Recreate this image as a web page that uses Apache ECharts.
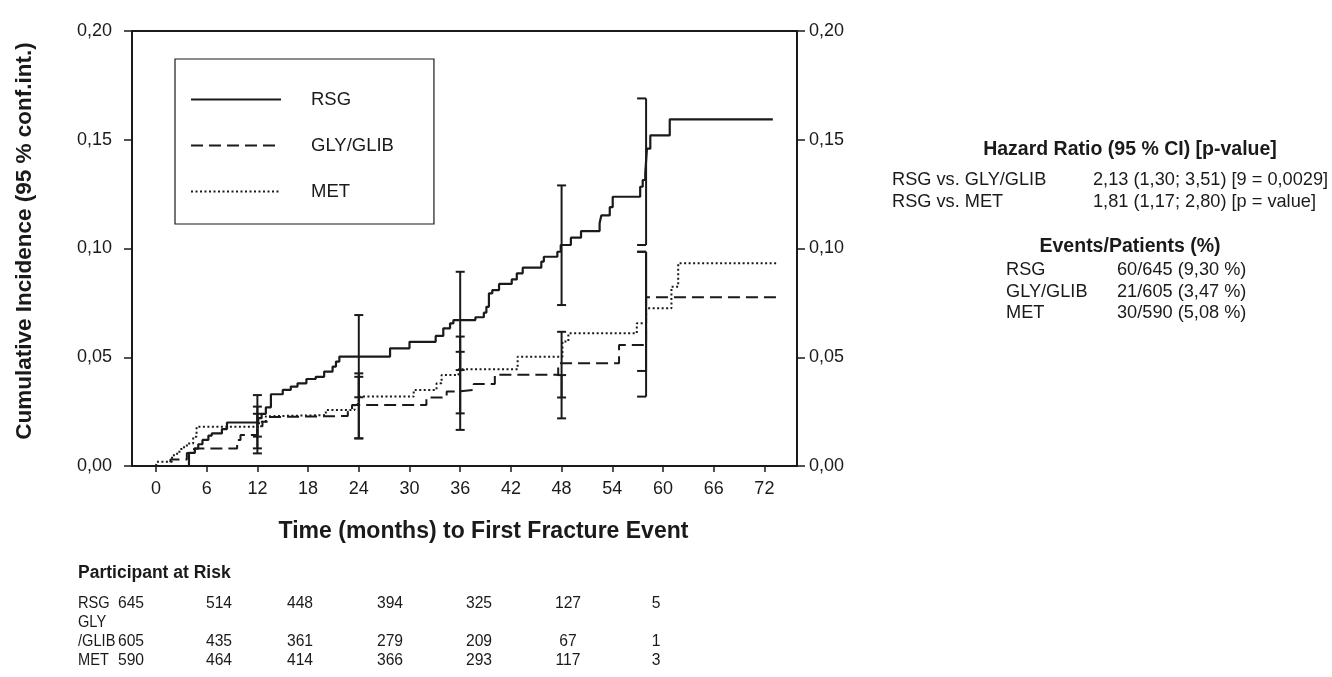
<!DOCTYPE html>
<html><head><meta charset="utf-8">
<script src="https://cdn.jsdelivr.net/npm/echarts@6/dist/echarts.min.js"></script>
<style>html,body{margin:0;padding:0;background:#fff}#c{width:1332px;height:677px}</style>
</head><body><div id="c"></div>
<script>
// ---------------- data ----------------
const seriesNames = ['RSG', 'GLY/GLIB', 'MET'];
// [month, cumulative incidence from that month on]
const rsgSteps = [[0,0],[3.9,0.006],[4.6,0.008],[5.0,0.010],[5.5,0.012],[6.2,0.014],[6.6,0.015],[7.8,0.017],[8.4,0.020],
  [12.1,0.022],[12.5,0.024],[13.0,0.027],[13.6,0.033],[15.0,0.035],[15.95,0.0365],[16.75,0.038],[17.8,0.040],[18.9,0.041],
  [19.9,0.0434],[20.9,0.0457],[21.3,0.048],[21.7,0.0503],[27.7,0.0541],[30.0,0.0571],[33.1,0.0598],[34.0,0.0633],[34.8,0.0656],
  [35.2,0.0671],[37.8,0.0684],[38.8,0.0705],[39.1,0.0732],[39.4,0.0794],[39.8,0.0809],[40.6,0.0837],[42.1,0.0858],[42.7,0.0886],
  [43.4,0.0912],[45.6,0.094],[45.9,0.0962],[47.5,0.0985],[47.9,0.1016],[49.1,0.105],[50.3,0.108],[52.5,0.1116],[52.7,0.1152],
  [53.7,0.119],[54.05,0.1238],[57.3,0.1284],[57.6,0.1315],[57.9,0.1345],[58.1,0.1459],[58.5,0.152],[60.8,0.1594],[73.0,0.1594]];
const glySteps = [[0,0],[1.7,0.003],[3.65,0.006],[4.5,0.0081],[9.6,0.012],[10.0,0.0143],[12.0,0.0183],[12.6,0.0204],[13.3,0.0225],
  [13.8,0.023],[22.7,0.025],[23.2,0.028],[32.0,0.0315],[34.4,0.0342],[35.6,0.035],[37.6,0.0377],[40.1,0.042],[47.6,0.0472],
  [54.8,0.0556],[58.0,0.0776],[73.5,0.0776]];
const metSteps = [[0,0],[0.1,0.002],[1.9,0.005],[2.5,0.0066],[3.0,0.0086],[3.65,0.0104],[4.4,0.0135],[4.8,0.0181],[12.2,0.0204],
  [13.0,0.0229],[13.5,0.0234],[20.1,0.0257],[23.5,0.0285],[24.0,0.0319],[30.5,0.035],[33.2,0.038],[33.8,0.0418],[35.8,0.0445],
  [42.8,0.0502],[48.1,0.0572],[48.8,0.061],[56.9,0.0656],[58.0,0.0725],[61.0,0.0824],[61.8,0.0932],[73.5,0.0932]];
// 95% confidence intervals [low, high] at the marked times
const ciTimes = [12, 24, 36, 48, 58];
const rsgCI = [[0.0135,0.0326],[0.0316,0.0694],[0.0441,0.0893],[0.074,0.129],[0.1016,0.169]];
const glyCI = [[0.0058,0.024],[0.0127,0.041],[0.0166,0.0525],[0.0219,0.0418],[0.0319,0.0985]];
const metCI = [[0.0081,0.0273],[0.0127,0.0426],[0.0242,0.0595],[0.0315,0.0617],[0.0437,0.0985]];

const xTicks = [0, 6, 12, 18, 24, 30, 36, 42, 48, 54, 60, 66, 72];
const yTicks = [0, 0.05, 0.10, 0.15, 0.20];

const riskTitle = 'Participant at Risk';
const riskRowLabels = ['RSG', 'GLY', '/GLIB', 'MET'];
const riskRSG = [645, 514, 448, 394, 325, 127, 5];
const riskGLY = [605, 435, 361, 279, 209, 67, 1];
const riskMET = [590, 464, 414, 366, 293, 117, 3];

const hrTitle = 'Hazard Ratio (95 % CI) [p-value]';
const hrLabels = ['RSG vs. GLY/GLIB', 'RSG vs. MET'];
const hrValues = ['2,13 (1,30; 3,51) [9 = 0,0029]', '1,81 (1,17; 2,80) [p = value]'];
const evTitle = 'Events/Patients (%)';
const evLabels = ['RSG', 'GLY/GLIB', 'MET'];
const evValues = ['60/645 (9,30 %)', '21/605 (3,47 %)', '30/590 (5,08 %)'];

// ---------------- layout ----------------
const FONT = '"Liberation Sans", Arial, Helvetica, sans-serif';
const INK = '#1a1a1a';
const riskCols = [131, 219, 300, 390, 479, 568, 656];
const riskLabelY = [603, 622, 641, 660];
const riskRowsY = [603, 641, 660];

const ciData = [];
ciTimes.forEach((t, i) => {
  ciData.push([t, rsgCI[i][0], rsgCI[i][1]]);
  ciData.push([t, glyCI[i][0], glyCI[i][1]]);
  ciData.push([t, metCI[i][0], metCI[i][1]]);
});

const fmtY = v => v.toFixed(2).replace('.', ',');

const graphic = [];
function txt(x, y, text, opt, scaleX) {
  graphic.push({type: 'text', x: x, y: y, scaleX: scaleX || 1, silent: true,
    style: Object.assign({text: text, fill: INK, fontFamily: FONT, fontSize: 16,
      align: 'left', verticalAlign: 'middle'}, opt || {})});
}
// risk table
txt(78, 573, riskTitle, {fontWeight: 'bold', fontSize: 17.5});
riskRowLabels.forEach((s, i) => txt(78, riskLabelY[i], s, {fontSize: 17}, 0.86));
[riskRSG, riskGLY, riskMET].forEach((row, r) => {
  row.forEach((v, c) => txt(riskCols[c], riskRowsY[r], String(v), {align: 'center', fontSize: 16.5}, 0.95));
});
// hazard ratio block
txt(1130, 150, hrTitle, {fontWeight: 'bold', fontSize: 19.5, align: 'center'});
hrLabels.forEach((s, i) => {
  txt(892, 180 + i * 21.7, s, {fontSize: 18.2});
  txt(1093, 180 + i * 21.7, hrValues[i], {fontSize: 18.2});
});
txt(1130, 247, evTitle, {fontWeight: 'bold', fontSize: 19.5, align: 'center'});
evLabels.forEach((s, i) => {
  txt(1006, 270 + i * 21.7, s, {fontSize: 18.2});
  txt(1117, 270 + i * 21.7, evValues[i], {fontSize: 18.2});
});

const chart = echarts.init(document.getElementById('c'), null, {renderer: 'canvas'});
const axisCommon = {
  type: 'value', min: 0, max: 0.2, interval: 0.05,
  axisLine: {show: true, onZero: false, lineStyle: {color: INK, width: 2}},
  axisTick: {show: true, inside: false, length: 8, lineStyle: {color: INK, width: 1.5}},
  axisLabel: {formatter: fmtY, color: INK, fontSize: 18, fontFamily: FONT},
  splitLine: {show: false}
};
chart.setOption({
  animation: false,
  backgroundColor: '#fff',
  grid: {left: 132, right: 535, top: 31, bottom: 211, show: true, borderColor: INK, borderWidth: 2, backgroundColor: '#fff'},
  legend: {
    data: seriesNames, orient: 'vertical', left: 175, top: 59,
    itemWidth: 90, itemHeight: 14, itemGap: 27,
    padding: [31, 40, 23, 15],
    borderColor: INK, borderWidth: 1.2, backgroundColor: '#fff',
    itemStyle: {opacity: 0},
    textStyle: {fontSize: 18.5, color: INK, fontFamily: FONT, padding: [0, 0, 0, 25]},
    selectedMode: false
  },
  xAxis: {
    type: 'value', min: -2.84, max: 75.86,
    axisLine: {show: true, onZero: false, lineStyle: {color: INK, width: 2}},
    axisTick: {show: true, customValues: xTicks, length: 6, lineStyle: {color: INK, width: 1.5}},
    axisLabel: {customValues: xTicks, margin: 14, color: INK, fontSize: 18, fontFamily: FONT},
    splitLine: {show: false},
    name: 'Time (months) to First Fracture Event', nameLocation: 'middle', nameGap: 54,
    nameTextStyle: {fontWeight: 'bold', fontSize: 23, color: INK, fontFamily: FONT, padding: [0, 0, 0, 38]}
  },
  yAxis: [
    Object.assign({}, axisCommon, {position: 'left',
      axisLabel: Object.assign({}, axisCommon.axisLabel, {margin: 20}),
      name: 'Cumulative Incidence (95 % conf.int.)', nameLocation: 'middle', nameGap: 96,
      nameTextStyle: {fontWeight: 'bold', fontSize: 22.5, color: INK, fontFamily: FONT, padding: [0, 0, 0, 15]}}),
    Object.assign({}, axisCommon, {position: 'right',
      axisLabel: Object.assign({}, axisCommon.axisLabel, {margin: 12})})
  ],
  series: [
    {name: 'RSG', type: 'line', step: 'end', data: rsgSteps, symbol: 'none',
      lineStyle: {color: INK, width: 2.2, type: 'solid'}, itemStyle: {color: INK}, z: 5},
    {name: 'GLY/GLIB', type: 'line', step: 'end', data: glySteps, symbol: 'none',
      lineStyle: {color: INK, width: 2, type: [12, 6]}, itemStyle: {color: INK}, z: 4},
    {name: 'MET', type: 'line', step: 'end', data: metSteps, symbol: 'none',
      lineStyle: {color: INK, width: 2, type: [2, 2.5]}, itemStyle: {color: INK}, z: 4},
    {name: 'CI', type: 'custom', data: ciData, z: 6, silent: true,
      renderItem: function (params, api) {
        const t = api.value(0);
        const p1 = api.coord([t, api.value(1)]);
        const p2 = api.coord([t, api.value(2)]);
        const hw = 4.5;
        const leftOnly = t > 55;
        const st = {stroke: INK, lineWidth: 2};
        const cap = (p) => ({type: 'line', shape: {x1: p[0] - (leftOnly ? 9 : hw), y1: p[1], x2: leftOnly ? p[0] : p[0] + hw, y2: p[1]}, style: st});
        return {type: 'group', children: [
          {type: 'line', shape: {x1: p1[0], y1: p1[1], x2: p2[0], y2: p2[1]}, style: st},
          cap(p1), cap(p2)
        ]};
      }}
  ],
  graphic: graphic
});
</script>
</body></html>
